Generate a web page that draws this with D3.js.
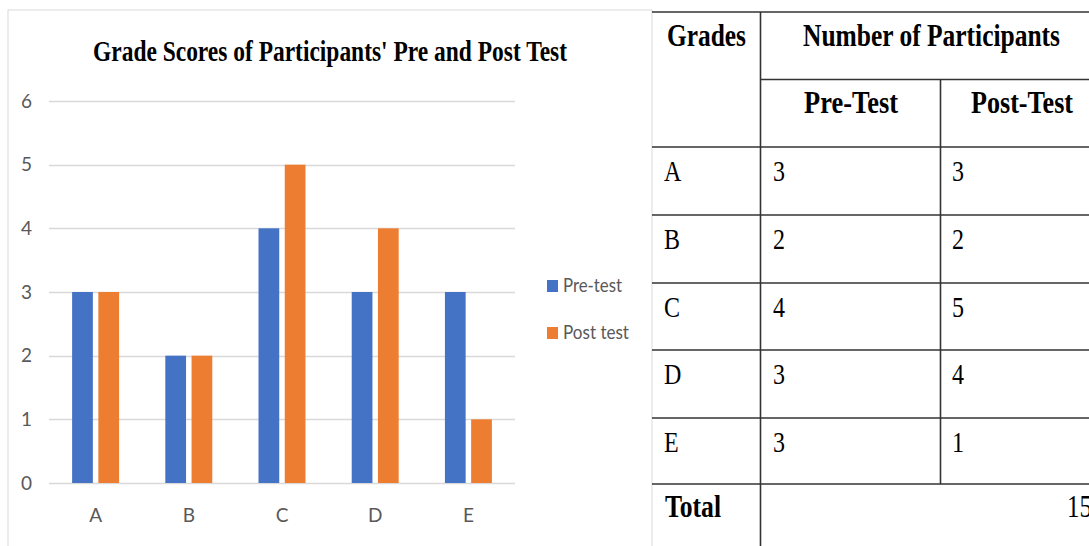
<!DOCTYPE html>
<html>
<head>
<meta charset="utf-8">
<script src="https://cdn.jsdelivr.net/npm/d3@7"></script>
<style>
  html, body { margin: 0; padding: 0; background: #fff; }
  svg { display: block; }
</style>
</head>
<body>
<svg id="chart" width="1089" height="546"></svg>
<script>
// ---- data ----
const categories = ["A", "B", "C", "D", "E"];
const seriesNames = ["Pre-test", "Post test"];
const preTest = [3, 2, 4, 3, 3];
const postTest = [3, 2, 5, 4, 1];
const yTicks = [0, 1, 2, 3, 4, 5, 6];
const chartTitle = "Grade Scores of Participants' Pre and Post Test";
const tableHeader1 = ["Grades", "Number of Participants"];
const tableHeader2 = ["Pre-Test", "Post-Test"];
const totalLabel = "Total";
const totalValue = "15";

const colors = ["#4472C4", "#ED7D31"];
const svg = d3.select("#chart");

// ---- chart frame ----
svg.append("rect").attr("x", 8).attr("y", 10).attr("width", 644).attr("height", 560)
  .attr("fill", "none").attr("stroke", "#d9d9d9").attr("stroke-width", 1);

svg.append("text").attr("x", 93).attr("y", 61)
  .attr("font-family", "Liberation Serif, serif").attr("font-weight", "bold")
  .attr("font-size", 29).attr("fill", "#000")
  .attr("textLength", 474).attr("lengthAdjust", "spacingAndGlyphs")
  .text(chartTitle);

const x0 = d3.scaleBand().domain(categories).range([49, 515]).paddingInner(0.496).paddingOuter(0.248);
const x1 = d3.scaleBand().domain(seriesNames).range([0, x0.bandwidth()]).paddingInner(0.21);
const y = d3.scaleLinear().domain([0, 6]).range([483, 101]);

// gridlines
svg.append("g").selectAll("line").data(yTicks).join("line")
  .attr("x1", 49).attr("x2", 515)
  .attr("y1", d => Math.round(y(d)) + 0.5).attr("y2", d => Math.round(y(d)) + 0.5)
  .attr("stroke", "#d9d9d9").attr("stroke-width", 1.5);

// y axis labels
const yAxis = d3.axisLeft(y).tickValues(yTicks).tickFormat(d3.format("d")).tickSize(0).tickPadding(0);
const yg = svg.append("g").attr("transform", "translate(32,0)").call(yAxis);
yg.select(".domain").remove();
yg.selectAll("text").attr("font-family", "Lato, sans-serif").attr("font-size", 19)
  .attr("fill", "#595959");

// x axis labels
const xAxis = d3.axisBottom(x0).tickSize(0).tickPadding(0);
const xg = svg.append("g").attr("transform", "translate(0,508)").call(xAxis);
xg.select(".domain").remove();
xg.selectAll("text").attr("font-family", "Lato, sans-serif").attr("font-size", 19)
  .attr("fill", "#595959");

// bars
const series = [preTest, postTest];
const groups = svg.append("g").selectAll("g").data(categories).join("g")
  .attr("transform", c => `translate(${x0(c)},0)`);
groups.selectAll("rect")
  .data((c, i) => series.map((s, j) => ({ name: seriesNames[j], v: s[i], j })))
  .join("rect")
  .attr("x", d => x1(d.name))
  .attr("width", x1.bandwidth())
  .attr("y", d => y(d.v))
  .attr("height", d => y(0) - y(d.v))
  .attr("fill", d => colors[d.j]);

// legend
const legend = svg.append("g").selectAll("g").data(seriesNames).join("g")
  .attr("transform", (d, i) => `translate(547,${280 + i * 47})`);
legend.append("rect").attr("width", 11).attr("height", 12).attr("fill", (d, i) => colors[i]);
legend.append("text").attr("x", 16).attr("y", 12)
  .attr("font-family", "Lato, sans-serif").attr("font-size", 19).attr("fill", "#595959")
  .attr("textLength", (d, i) => i === 0 ? 59 : 66).attr("lengthAdjust", "spacingAndGlyphs")
  .text(d => d);

// ---- table ----
const colX = [652, 760.5, 940.5, 1089];
const rowY = [12, 147, 215, 283, 350, 418, 484, 560];
const headerMid = 79.5;
const lineColor = "#333";
const tg = svg.append("g");
const ff = "Liberation Serif, serif";

rowY.slice(0, 7).forEach(yy => {
  tg.append("line").attr("x1", 652).attr("x2", 1089).attr("y1", yy).attr("y2", yy)
    .attr("stroke", lineColor).attr("stroke-width", 1.6);
});
tg.append("line").attr("x1", colX[1]).attr("x2", 1089).attr("y1", headerMid).attr("y2", headerMid)
  .attr("stroke", lineColor).attr("stroke-width", 1.6);
tg.append("line").attr("x1", colX[1]).attr("x2", colX[1]).attr("y1", 12).attr("y2", 546)
  .attr("stroke", lineColor).attr("stroke-width", 1.6);
tg.append("line").attr("x1", colX[2]).attr("x2", colX[2]).attr("y1", headerMid).attr("y2", 484)
  .attr("stroke", lineColor).attr("stroke-width", 1.6);

function cellText(str, xx, yy, opts) {
  const t = tg.append("text").attr("x", xx).attr("y", yy)
    .attr("font-family", ff).attr("font-size", opts.size || 30)
    .attr("font-weight", opts.bold ? "bold" : "normal")
    .attr("fill", "#000").text(str);
  const len = opts.len || t.node().getComputedTextLength() * 0.8;
  t.attr("textLength", len).attr("lengthAdjust", "spacingAndGlyphs");
  return t;
}

cellText(tableHeader1[0], 667, 46, { bold: true, size: 32, len: 79 });
cellText(tableHeader1[1], 803, 46, { bold: true, size: 32, len: 257 });
cellText(tableHeader2[0], 804, 113, { bold: true, size: 32, len: 94 });
cellText(tableHeader2[1], 971, 113, { bold: true, size: 32, len: 102 });

categories.forEach((c, i) => {
  const base = rowY[i + 1] + 34;
  cellText(c, 664, base, { size: 30 });
  cellText(String(preTest[i]), 773, base, { size: 30 });
  cellText(String(postTest[i]), 952, base, { size: 30 });
});
cellText(totalLabel, 665, 517, { bold: true, size: 32, len: 56 });
cellText(totalValue, 1067, 517, { size: 31 });
</script>
</body>
</html>
